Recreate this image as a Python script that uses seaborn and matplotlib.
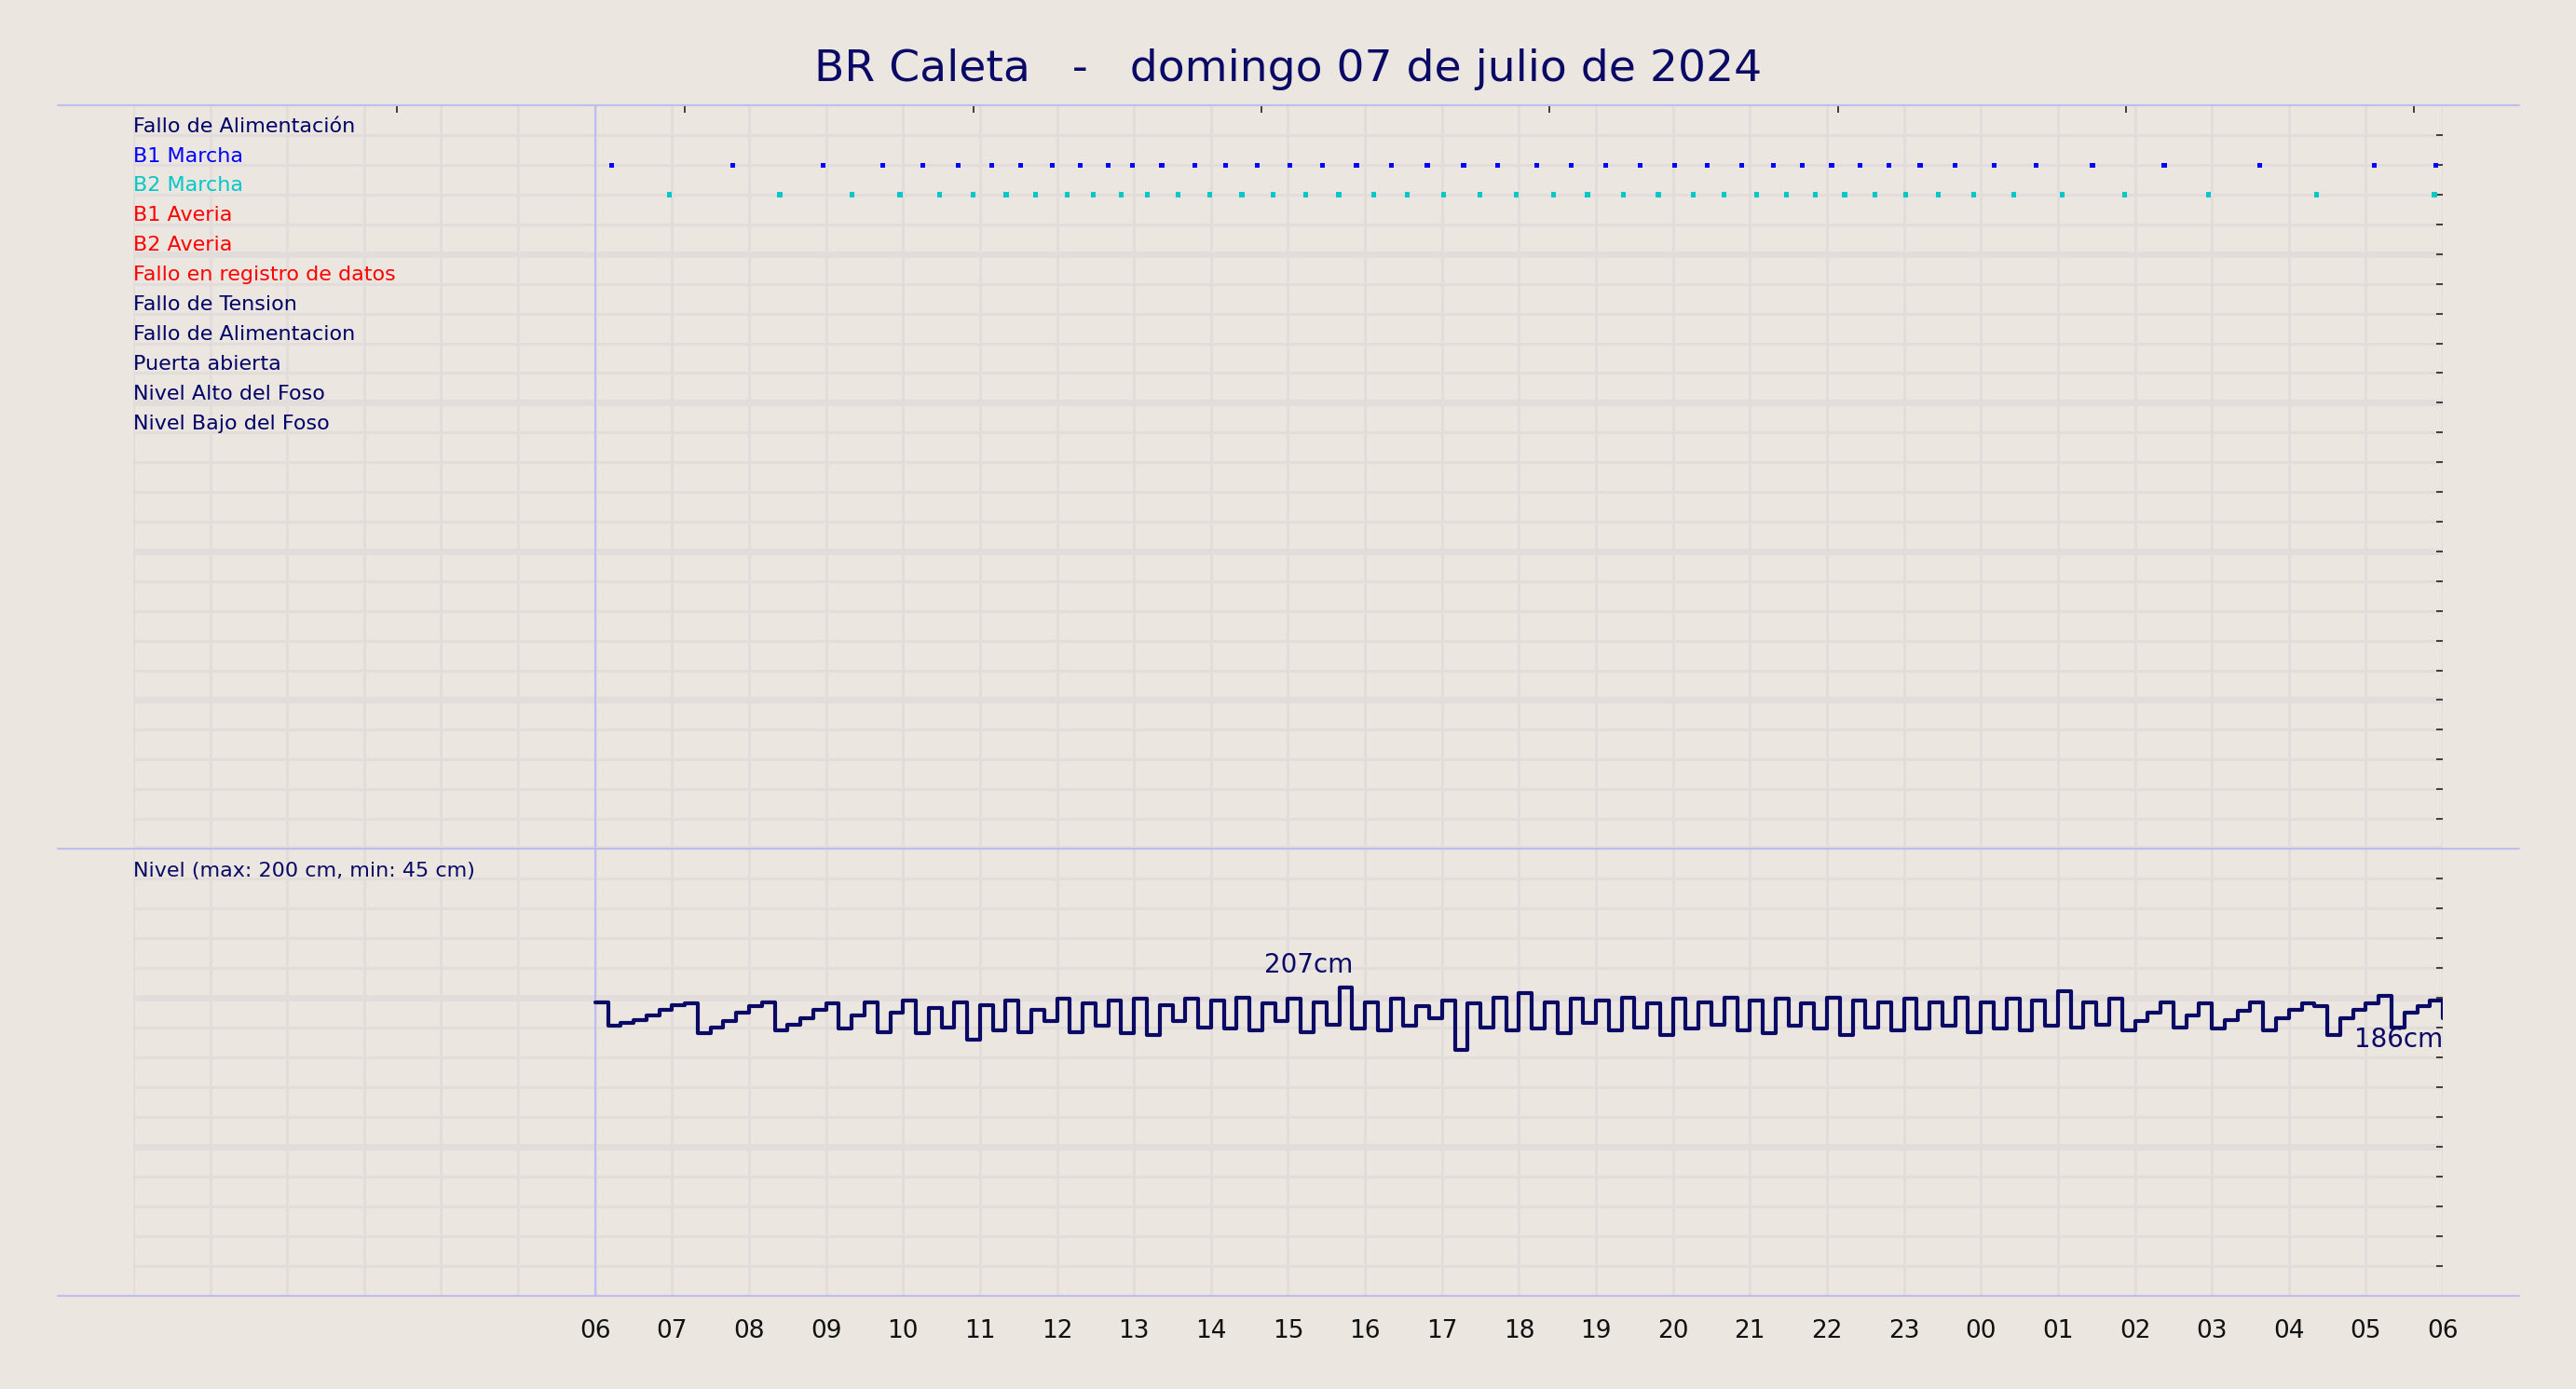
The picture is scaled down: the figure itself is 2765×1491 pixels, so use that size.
import numpy as np
import pandas as pd
import seaborn as sns
import matplotlib
matplotlib.use("Agg")
import matplotlib.pyplot as plt
from matplotlib.lines import Line2D

#   señales (filas del panel superior)
signal_names = ['Fallo de Alimentación', 'B1 Marcha', 'B2 Marcha', 'B1 Averia', 'B2 Averia',
                'Fallo en registro de datos', 'Fallo de Tension', 'Fallo de Alimentacion',
                'Puerta abierta', 'Nivel Alto del Foso', 'Nivel Bajo del Foso']
signal_colors = ['#000066', '#0000ff', '#00c8c8', '#ff0000', '#ff0000', '#ff0000',
                 '#000066', '#000066', '#000066', '#000066', '#000066']

#   arranques de bombas (hora decimal, 06 = inicio del día)
b1_times = [6.21, 7.79, 8.96, 9.74, 10.26, 10.72, 11.15, 11.53, 11.94, 12.30, 12.66, 12.98,
            13.36, 13.79, 14.19, 14.60, 15.02, 15.45, 15.89, 16.34, 16.81, 17.28, 17.72,
            18.23, 18.68, 19.13, 19.57, 20.02, 20.45, 20.89, 21.30, 21.68, 22.06, 22.43,
            22.81, 23.21, 23.66, 24.17, 24.72, 25.45, 26.38, 27.62, 29.11, 29.91]
b2_times = [6.96, 8.40, 9.34, 9.96, 10.47, 10.91, 11.34, 11.72, 12.13, 12.47, 12.83, 13.17,
            13.57, 13.98, 14.40, 14.81, 15.23, 15.66, 16.11, 16.55, 17.02, 17.49, 17.96,
            18.45, 18.89, 19.36, 19.81, 20.26, 20.66, 21.09, 21.47, 21.85, 22.23, 22.62,
            23.02, 23.45, 23.91, 24.43, 25.06, 25.87, 26.96, 28.36, 29.89]

#   nivel cada 10 minutos desde las 06:00
level_cm = [197, 181, 183, 185, 188, 192,
            195, 196, 176, 180, 184, 190,
            194, 197, 178, 182, 186, 192,
            196, 179, 188, 197, 177, 190,
            198, 176, 193, 180, 197, 172,
            195, 178, 198, 177, 192, 184,
            199, 177, 196, 181, 198, 176,
            199, 175, 195, 184, 199, 180,
            198, 179, 200, 178, 196, 184,
            199, 177, 197, 182, 207, 179,
            197, 178, 199, 181, 194, 186,
            198, 165, 196, 180, 200, 178,
            203, 179, 197, 176, 199, 183,
            198, 178, 200, 180, 196, 175,
            199, 179, 197, 182, 200, 178,
            198, 176, 199, 181, 196, 179,
            200, 175, 198, 180, 197, 178,
            199, 179, 197, 181, 200, 177,
            197, 179, 199, 178, 198, 181,
            204, 180, 197, 182, 199, 178,
            184, 190, 197, 180, 188, 196,
            179, 185, 191, 197, 178, 186,
            192, 196, 194, 175, 186, 192,
            196, 201, 180, 190, 194, 198, 186]
level_hours = [6 + i / 6 for i in range(len(level_cm))]
hour_labels = ['06', '07', '08', '09', '10', '11', '12', '13', '14', '15', '16', '17', '18',
               '19', '20', '21', '22', '23', '00', '01', '02', '03', '04', '05', '06']

bg = '#ebe6e0'
gridc = '#e2dddb'
navy = '#0a0a66'
bluel = '#bdbdf0'

sns.set_theme(style='white')
plt.rcParams['font.family'] = ['DejaVu Sans']

fig = plt.figure(figsize=(27.65, 14.91), dpi=100, facecolor=bg)
ax1 = fig.add_axes([0.0517, 0.389, 0.8966, 0.535])
ax2 = fig.add_axes([0.0517, 0.0674, 0.8966, 0.3216])

for ax in (ax1, ax2):
    ax.set_facecolor(bg)
    ax.set_xlim(0, 30)
    for s in ax.spines.values():
        s.set_visible(False)
    ax.grid(False)
    for h in range(0, 31):
        ax.axvline(h, color=gridc, lw=2.2, zorder=0)
    ax.axvline(6, color=bluel, lw=1.5, zorder=1)

#   panel superior
ax1.set_ylim(25, 0)
for r in range(1, 26):
    ax1.axhline(r, color=gridc, lw=5 if r % 5 == 0 else 2.2, zorder=0)
for i, (name, col) in enumerate(zip(signal_names, signal_colors)):
    ax1.text(0, i + 0.7, name, color=col, fontsize=16, va='center', ha='left')
sns.scatterplot(x=b1_times, y=[2] * len(b1_times), ax=ax1, marker='s', s=14,
                color='#0000ff', edgecolor='none', zorder=3)
sns.scatterplot(x=b2_times, y=[3] * len(b2_times), ax=ax1, marker='s', s=14,
                color='#00c8c8', edgecolor='none', zorder=3)
ax1.set_xticks(range(0, 31))
ax1.set_xticklabels([])
ax1.set_yticks(range(1, 25))
ax1.yaxis.tick_right()
ax1.tick_params(axis='y', right=True, length=5, width=1.2, color='#222222', labelright=False,
                direction='in')
ax1.tick_params(axis='x', bottom=False)
top = ax1.secondary_xaxis('top')
top.set_ticks([3.43, 7.17, 10.91, 14.66, 18.40, 22.14, 25.88, 29.62])
top.tick_params(direction='in', length=6, width=1.2, color='#222222', labeltop=False)
for s in top.spines.values():
    s.set_visible(False)

#   panel inferior
ax2.set_ylim(0, 300)
for v in range(20, 300, 20):
    ax2.axhline(v, color=gridc, lw=5 if v % 100 == 0 else 2.2, zorder=0)
df = pd.DataFrame({'hora': level_hours, 'nivel': level_cm})
sns.lineplot(data=df, x='hora', y='nivel', ax=ax2, color=navy, lw=3, drawstyle='steps-post', zorder=3)
ax2.set_xlabel('')
ax2.set_ylabel('')
ax2.set_xticks(range(6, 31))
ax2.set_xticklabels(hour_labels, fontsize=19, color='#111111')
ax2.tick_params(axis='x', bottom=False, pad=12)
ax2.set_yticks(range(20, 300, 20))
ax2.yaxis.tick_right()
ax2.tick_params(axis='y', right=True, length=5, width=1.2, color='#222222', labelright=False,
                direction='in')
ax2.text(0, 285, 'Nivel (max: 200 cm, min: 45 cm)', color=navy, fontsize=16, va='center')
imax = int(np.argmax(level_cm))
ax2.text(level_hours[imax] - 0.4, max(level_cm) + 6, f'{max(level_cm)}cm', color=navy,
         fontsize=20, ha='center', va='bottom')
ax2.text(30, 172, f'{level_cm[-1]}cm', color=navy, fontsize=20, ha='right', va='center')

#   separadores
for yy in (0.924, 0.389, 0.0674):
    fig.add_artist(Line2D([0.0223, 0.978], [yy, yy], color=bluel, lw=1.5))

fig.suptitle('BR Caleta   -   domingo 07 de julio de 2024', fontsize=34, color=navy, y=0.965)
fig.savefig('out.png', dpi=100, facecolor=bg)
